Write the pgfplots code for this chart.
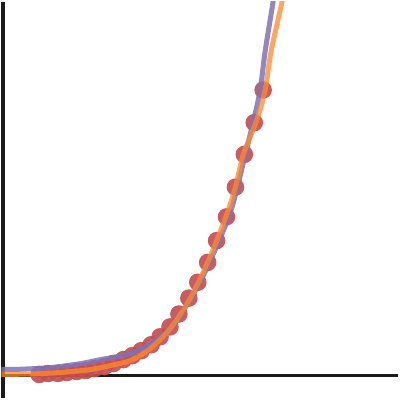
\documentclass[border=0pt]{standalone}
\usepackage{pgfplots}
\pgfplotsset{compat=1.18}
\definecolor{dotred}{HTML}{C44E52}
\definecolor{fitpurple}{HTML}{8172B2}
\definecolor{fitorange}{HTML}{FF8A2E}
\definecolor{axisblack}{HTML}{1A1A1A}
\begin{document}
\begin{tikzpicture}
\begin{axis}[
  scale only axis, width=10cm, height=10cm,
  xmin=0, xmax=400, ymin=0, ymax=400,
  hide axis, clip=true, clip mode=individual,
]
% axis spines
\draw[axisblack, line width=2.5pt] (axis cs:1.75,0) -- (axis cs:1.75,400);
\draw[axisblack, line width=2.1pt] (axis cs:0,22.5) -- (axis cs:400,22.5);
% observations
\addplot[only marks, mark=*, mark size=6.3pt, color=dotred,
  mark options={draw opacity=0, fill=dotred, fill opacity=0.92}]
  coordinates {
  (38,24) (47,25) (57,25) (66,26) (76,27) (85,28) (94,30) (104,32)
  (113,35) (123,39) (132,43) (141,48) (151,54) (160,62) (170,72)
  (179,85) (189,101) (198,117) (208,137) (217,159) (227,183)
  (236,213) (245,246) (255,278) (264,311)
  };
% fit 1
\addplot[fitpurple, line width=3.6pt, opacity=0.85, smooth, tension=0.5]
  coordinates {
  (0,29) (20,29.3) (50,31) (80,35) (100,39) (130,45) (150,55) (170,70)
  (190,99) (208,133) (229,182) (238,213) (246,246) (254,279) (261,311)
  (266,350) (274,400) (278,430)
  };
% fit 2
\addplot[fitorange, line width=3.6pt, opacity=0.75, smooth, tension=0.5]
  coordinates {
  (0,24) (30,24.5) (60,26) (90,29) (110,33) (130,38) (150,50) (170,70)
  (190,100) (208,137) (226,182) (236,213) (244,246) (257,279) (266,311)
  (272,350) (283,400) (288,430)
  };
\end{axis}
\end{tikzpicture}
\end{document}
